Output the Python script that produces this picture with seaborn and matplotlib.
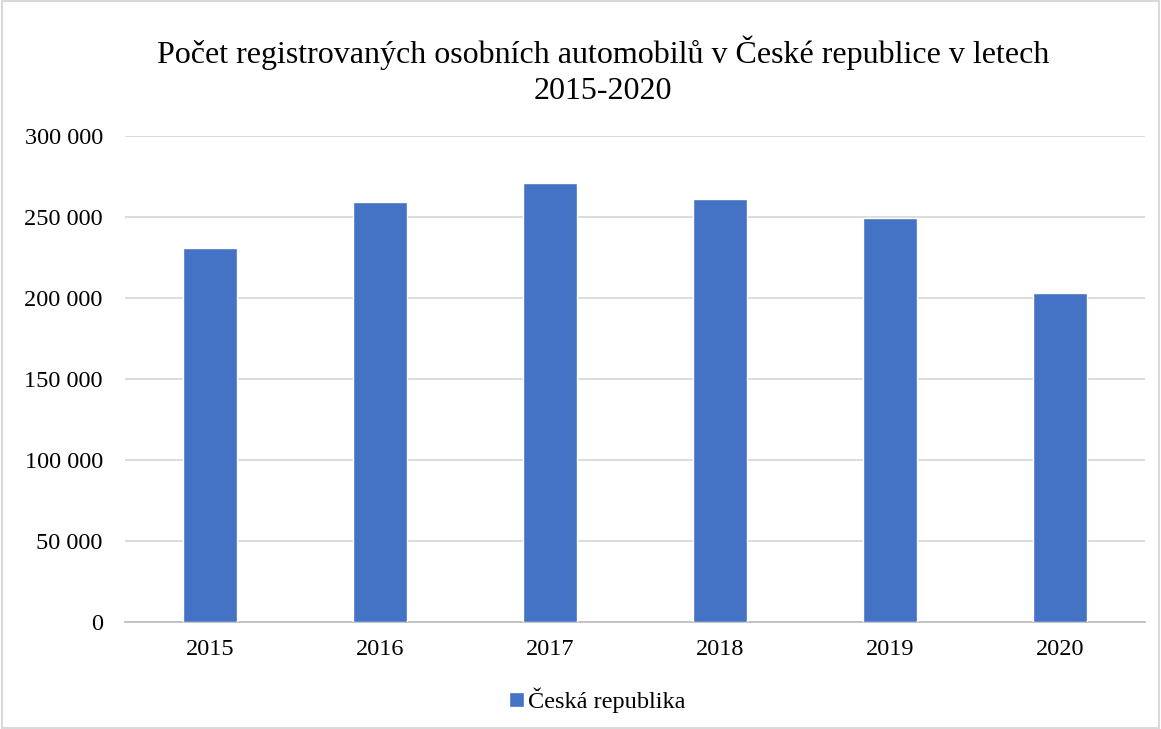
import pandas as pd
import seaborn as sns
import matplotlib.pyplot as plt
from matplotlib.ticker import FuncFormatter
from matplotlib.patches import Rectangle

years = ["2015", "2016", "2017", "2018", "2019", "2020"]
registrations = [230600, 259500, 271100, 260900, 249400, 202900]
series_name = "Česká republika"
title = "Počet registrovaných osobních automobilů v České republice v letech\n2015-2020"

df = pd.DataFrame({"rok": years, "pocet": registrations})

sns.set_style("white")
plt.rcParams["font.family"] = ["Liberation Serif", "DejaVu Serif"]

fig = plt.figure(figsize=(11.61, 7.29), dpi=100)
ax = fig.add_axes([125 / 1161, 1 - 622 / 729, (1145 - 125) / 1161, (622 - 136) / 729])

sns.barplot(data=df, x="rok", y="pocet", color="#4472C4", width=0.32,
            saturation=1, ax=ax, label=series_name, zorder=3)

ax.set_ylim(0, 300000)
ax.set_yticks(range(0, 300001, 50000))
ax.yaxis.set_major_formatter(FuncFormatter(lambda v, p: f"{int(v):,}".replace(",", " ")))
ax.grid(axis="y", color="#D9D9D9", linewidth=1.3, zorder=0)
ax.set_xlabel("")
ax.set_ylabel("")
for s in ["top", "right", "left"]:
    ax.spines[s].set_visible(False)
ax.spines["bottom"].set_color("#BFBFBF")
ax.spines["bottom"].set_linewidth(1.3)
ax.tick_params(axis="both", length=0, labelsize=17.5, colors="black")
ax.tick_params(axis="y", pad=16)
ax.tick_params(axis="x", pad=12)

fig.suptitle(title, fontsize=23, x=603 / 1161, y=1 - 36 / 729, va="top",
             linespacing=1.3, color="black")

leg = ax.legend(loc="upper center", bbox_to_anchor=(0.463, -0.09), frameon=False,
                fontsize=17.5, handlelength=0.6, handleheight=0.6, handletextpad=0.15)
for t in leg.get_texts():
    t.set_color("black")

# light chart-area border
fig.patches.append(Rectangle((0.002, 0.002), 0.996, 0.996, transform=fig.transFigure,
                             fill=False, edgecolor="#D9D9D9", linewidth=1.5))

fig.savefig("out.png", dpi=100)
